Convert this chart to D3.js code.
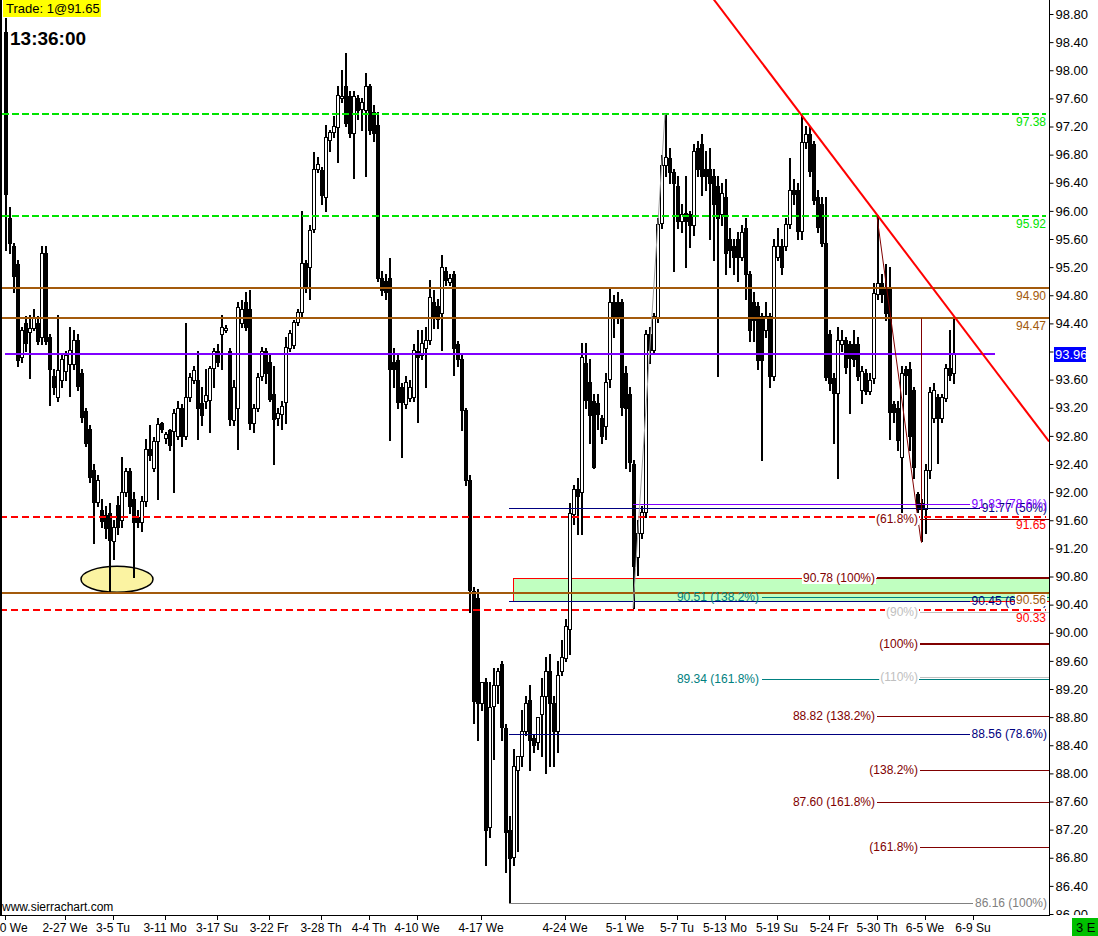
<!DOCTYPE html>
<html><head><meta charset="utf-8">
<script src="https://cdn.jsdelivr.net/npm/d3@7"></script>
<style>
html,body{margin:0;padding:0;background:#fff;}
svg{display:block;font-family:"Liberation Sans",Arial,sans-serif;}
</style></head><body>
<svg id="c" width="1098" height="936"></svg>
<script>
// ---------- DATA ----------
// [open, high, low, close] per bar
const ohlc = [
[98.55,98.75,95.45,96.25],[95.9,96.05,95.4,95.55],[95.5,95.55,94.85,95.08],[95.25,95.3,93.8,93.88],[93.92,94.35,93.85,94.3],
[94.4,94.5,94.0,94.12],[94.28,94.52,93.63,94.33],[94.33,94.6,94.3,94.47],[94.4,94.5,94.1,94.15],[94.2,95.5,94.1,95.4],
[95.4,95.5,94.1,94.15],[94.2,94.25,93.24,93.74],[93.65,93.75,93.4,93.5],[93.35,94.52,93.3,93.74],[93.6,93.95,93.5,93.9],
[93.72,94.0,93.6,93.95],[93.82,94.35,93.37,94.02],[93.82,94.3,93.75,94.16],[94.16,94.25,93.45,93.5],[93.7,93.75,93.0,93.07],
[93.15,93.2,92.65,92.7],[92.9,92.95,92.15,92.22],[92.32,92.4,91.28,91.86],[91.86,92.25,91.8,92.17],[91.75,91.9,91.5,91.6],
[91.68,91.8,91.35,91.5],[91.7,91.85,90.56,91.32],[91.3,91.6,91.05,91.5],[91.82,91.95,91.4,91.5],[91.6,92.5,91.5,92.0],
[92.0,92.35,91.95,92.3],[92.3,92.35,91.7,91.8],[91.9,92.0,90.8,91.58],[91.65,91.75,91.5,91.58],[91.58,91.95,91.45,91.88],
[91.88,92.75,91.8,92.62],[92.62,92.95,92.45,92.53],[92.35,92.78,92.3,92.73],[92.73,93.05,91.9,92.97],[92.98,93.0,92.85,92.9],
[92.77,92.85,92.7,92.82],[92.88,92.9,92.6,92.66],[92.87,93.18,92.0,93.13],[92.8,93.3,92.75,93.2],[93.2,93.25,92.65,92.8],
[92.8,94.4,92.75,93.35],[93.35,93.7,93.3,93.64],[93.6,93.8,93.55,93.74],[93.6,94.0,92.75,93.2],[93.27,93.5,92.95,93.1],
[93.3,93.75,93.2,93.38],[93.3,93.8,92.85,93.76],[93.76,94.05,93.5,94.0],[94.0,94.1,93.8,93.85],[94.25,94.52,93.75,94.35],
[94.3,94.37,94.28,94.33],[94.0,94.05,92.95,93.03],[93.03,93.6,92.95,93.5],[93.2,94.7,92.62,94.63],[94.4,94.73,94.35,94.6],
[94.7,94.85,94.3,94.35],[94.6,94.88,92.9,92.98],[92.98,93.25,92.85,93.2],[93.2,93.7,93.15,93.64],[93.64,94.06,93.6,94.0],
[94.0,94.05,93.55,93.68],[93.85,93.95,93.3,93.33],[93.4,93.8,92.4,93.05],[93.05,93.2,92.95,93.12],[93.1,93.3,92.9,93.22],
[93.28,94.2,92.98,94.06],[94.06,94.3,94.0,94.27],[94.1,94.45,94.05,94.42],[94.42,94.6,94.38,94.56],[94.56,96.0,94.5,95.26],
[95.26,95.3,94.85,94.9],[95.2,95.8,94.75,95.73],[95.75,96.84,95.7,96.6],[96.6,96.77,96.55,96.67],[96.58,96.62,96.1,96.23],
[96.2,97.22,96.0,97.05],[97.0,97.15,96.85,97.12],[97.12,97.35,97.05,97.2],[97.2,97.77,96.7,97.65],[97.6,98.0,97.55,97.63],
[97.77,98.25,97.2,97.25],[97.63,97.7,97.05,97.1],[97.1,97.7,96.47,97.63],[97.6,97.65,97.3,97.43],[97.45,97.6,97.15,97.55],
[97.43,97.96,96.5,97.77],[97.77,97.8,97.1,97.15],[97.4,97.5,97.0,97.1],[97.22,97.4,95.0,95.05],[95.05,95.15,94.8,94.88],
[95.0,95.1,94.75,94.85],[95.05,95.33,92.74,93.75],[93.85,94.05,93.5,93.75],[93.88,93.95,93.2,93.28],[93.5,93.55,92.5,93.28],
[93.25,93.65,93.2,93.57],[93.35,93.6,93.3,93.5],[93.35,94.1,93.3,94.02],[94.0,94.3,93.0,93.92],[93.95,94.3,93.9,94.12],
[94.05,94.35,93.5,94.16],[94.16,95.02,94.1,94.77],[94.7,94.88,94.33,94.5],[94.65,94.75,94.33,94.47],[94.55,95.37,94.02,95.2],
[95.15,95.2,94.95,95.02],[95.0,95.1,94.95,95.05],[95.1,95.15,93.67,94.05],[94.1,94.15,93.8,93.88],[93.9,93.95,92.88,93.17],
[93.17,93.2,92.1,92.17],[92.17,92.25,90.3,90.6],[90.6,90.65,88.72,89.04],[90.5,90.62,88.48,89.0],[89.0,89.3,88.9,89.3],
[89.3,89.35,86.7,87.2],[87.25,89.3,87.1,88.95],[88.95,89.5,88.2,89.25],[89.25,89.5,89.0,89.45],[89.55,89.6,88.48,88.65],
[88.65,88.7,86.6,87.17],[87.2,87.4,86.16,86.8],[86.8,88.35,86.7,88.1],[88.05,88.25,86.9,88.25],[88.25,88.9,88.1,88.6],
[88.6,89.1,88.55,89.0],[89.05,89.25,88.05,88.48],[88.5,88.55,88.3,88.4],[88.45,88.8,88.35,88.8],[88.85,89.35,88.25,89.1],
[89.1,89.65,88.0,89.45],[89.45,89.7,88.1,89.0],[89.0,89.1,88.1,88.6],[88.6,89.6,88.3,89.4],[89.45,89.9,89.4,89.65],
[89.65,90.2,89.6,90.1],[90.05,91.85,89.7,91.7],[91.7,92.1,91.55,92.05],[92.05,92.2,91.4,91.95],[92.0,94.12,91.4,93.92],
[93.83,94.12,93.2,93.3],[93.57,93.9,92.7,93.1],[93.3,93.4,92.35,92.36],[93.27,93.4,92.9,93.12],[93.05,93.1,92.7,92.8],
[92.95,93.7,92.75,93.57],[93.6,94.9,93.5,94.7],[94.7,94.8,94.2,94.5],[94.7,94.85,94.4,94.5],[94.7,94.75,93.1,93.2],
[93.7,93.8,92.35,93.2],[93.4,93.5,92.3,92.43],[92.4,92.45,90.35,90.95],[91.08,91.6,90.82,91.42],[91.42,91.8,91.35,91.72],
[91.72,94.3,91.65,94.25],[94.25,94.35,93.83,94.02],[94.02,94.55,93.97,94.5],[94.5,95.9,94.42,95.82],[95.82,96.8,95.75,96.65],
[96.65,97.38,96.5,96.77],[96.75,96.9,96.4,96.55],[96.55,96.6,95.15,96.4],[96.35,96.5,95.75,95.85],[95.85,96.1,95.7,95.95],
[95.97,96.5,95.2,95.85],[95.95,96.0,95.48,95.8],[95.8,96.95,95.65,96.85],[96.9,97.0,96.5,96.6],[96.95,97.1,96.22,96.5],
[96.6,96.85,96.3,96.5],[96.6,96.9,95.6,96.4],[96.5,96.6,95.3,96.1],[96.35,96.5,93.65,95.9],[95.95,96.4,95.8,96.25],
[96.2,96.45,95.1,95.4],[95.6,95.75,95.2,95.45],[95.5,95.6,95.1,95.35],[95.6,95.7,95.0,95.35],[95.35,95.8,95.3,95.7],
[95.75,95.9,94.75,95.1],[95.1,95.15,94.15,94.3],[94.7,94.85,94.15,94.45],[94.65,94.7,93.75,93.88],[94.5,94.55,92.45,93.88],
[94.3,94.7,94.2,94.5],[94.5,94.55,93.5,93.65],[93.65,95.6,93.6,95.5],[95.35,95.75,95.3,95.5],[95.5,95.6,95.1,95.2],
[95.5,95.9,95.45,95.82],[95.82,96.75,95.75,96.3],[96.3,96.45,96.1,96.25],[96.3,96.4,95.6,95.72],[95.72,97.38,95.6,96.98],
[96.98,97.2,96.9,97.1],[97.1,97.2,96.5,96.58],[96.95,97.0,96.1,96.15],[96.2,96.3,95.7,95.77],[96.1,96.2,95.5,95.55],
[95.55,96.2,93.6,93.65],[94.25,94.3,93.45,93.55],[93.62,93.7,92.7,93.4],[93.4,94.35,92.2,94.16],[94.1,94.3,94.0,94.16],
[94.16,94.2,93.7,93.78],[94.1,94.15,93.13,93.9],[94.1,94.3,93.8,93.88],[94.1,94.2,93.6,93.65],[93.45,93.8,93.27,93.72],
[93.7,93.75,93.4,93.45],[93.45,93.7,93.4,93.6],[93.62,94.98,93.55,94.83],[94.83,95.92,94.75,94.98],[94.98,95.1,94.7,94.83],
[94.9,95.25,94.45,94.55],[94.9,95.2,92.75,93.13],[93.25,93.3,93.0,93.13],[93.2,93.3,92.6,92.74],[92.5,93.8,91.72,93.7],
[93.75,93.8,93.4,93.67],[93.75,93.85,92.6,92.8],[93.45,93.5,92.2,92.35],[91.97,92.0,91.72,91.75],[91.85,91.9,91.3,91.77],
[91.77,92.4,91.42,92.32],[92.32,93.5,92.2,93.43],[93.05,93.55,93.0,93.45],[93.35,93.4,92.42,93.05],[93.05,93.4,93.0,93.35],
[93.35,93.82,93.3,93.77],[93.77,94.3,93.6,93.67],[93.7,94.47,93.55,93.98]
];
const tickBars   = [0,15,27,40,53,66,79,91,103,119,140,155,168,180,193,206,218,230,242];
const tickLabels = ["2-20 We","2-27 We","3-5 Tu","3-11 Mo","3-17 Su","3-22 Fr","3-28 Th","4-4 Th","4-10 We","4-17 We",
                    "4-24 We","5-1 We","5-7 Tu","5-13 Mo","5-19 Su","5-24 Fr","5-30 Th","6-5 We","6-9 Su"];
const priceTicks = [98.8,98.4,98.0,97.6,97.2,96.8,96.4,96.0,95.6,95.2,94.8,94.4,94.0,93.6,93.2,92.8,92.4,92.0,91.6,91.2,90.8,90.4,90.0,89.6,89.2,88.8,88.4,88.0,87.6,87.2,86.8,86.4,86.0];
const greenLevels = [97.38, 95.92];
const brownLevels = [94.90, 94.47, 90.56];
const redLevels   = [91.65, 90.33];
const pivotLevel  = 93.96;
const zonePrices  = [90.78, 90.45];
const zoneStartBar = 127;
const ellipseAt   = [28, 90.76];
const trendAnchors = [[198.75, 97.39],[261, 92.72]];
const fibLowBar = 126;
const fibFromLow = [[91.77,"50%"],[90.45,"61.8%"],[88.56,"78.6%"],[86.16,"100%"]];
const fibPurpleBar = 157;
const fibPurple = [[91.83,"78.6%"]];
const fibTealBar = 189;
const fibTeal = [[90.51,"138.2%"],[89.34,"161.8%"]];
const fibDBar = 218;
const fibD = [[90.78,"100%"],[88.82,"138.2%"],[87.60,"161.8%"]];
const fibEBar = 229;
const fibE = [[91.62,"61.8%"],[90.29,"90%"],[89.84,"100%"],[89.37,"110%"],[88.05,"138.2%"],[86.95,"161.8%"]];
const swingGray = [[157, 90.35],[165, 97.38]];
const swingRed  = [[218, 95.92],[229, 91.30]];
const swingVert = [229, 94.47, 91.28];

// ---------- DRAW ----------
const svg = d3.select("#c");
const PL = 2, PR = 1049, PB = 915;
const x = d3.scaleLinear().domain([0, 261]).range([5, 1049]);
const y = d3.scaleLinear().domain([86, 98.8]).range([914, 14]);
const C = {green:"#00e400", brown:"#a35a0c", purple:"#8000ff", red:"#ff0000", dred:"#800000",
           navy:"#000080", teal:"#008080", lgray:"#c0c0c0", gray:"#808080"};
const fmt = v => v.toFixed(2);

const defs = svg.append("defs");
defs.append("clipPath").attr("id","plot").append("rect").attr("x",PL).attr("y",0).attr("width",PR-PL).attr("height",PB);
defs.append("clipPath").attr("id","axc").append("rect").attr("x",PR).attr("y",0).attr("width",60).attr("height",PB);

const plot = svg.append("g").attr("clip-path","url(#plot)");

// zone
plot.append("rect").attr("x", Math.round(x(zoneStartBar))+0.5).attr("y", Math.round(y(zonePrices[0]))+0.5)
  .attr("width", PR - Math.round(x(zoneStartBar))).attr("height", Math.round(y(zonePrices[1]) - y(zonePrices[0])))
  .attr("fill","#c0ffc0").attr("stroke",C.red);

// ellipse
plot.append("ellipse").attr("cx", x(ellipseAt[0])).attr("cy", y(ellipseAt[1])).attr("rx",36).attr("ry",13)
  .attr("fill","#fbf3a2").attr("stroke","#000").attr("stroke-width",1.5);

// candles
const cg = plot.append("g").attr("shape-rendering","crispEdges");
cg.selectAll("line").data(ohlc).join("line")
  .attr("x1",(d,i)=>Math.round(x(i))+1).attr("x2",(d,i)=>Math.round(x(i))+1)
  .attr("y1",d=>Math.round(y(d[1]))).attr("y2",d=>Math.round(y(d[2]))+1)
  .attr("stroke","#000").attr("stroke-width",2);
cg.selectAll("rect").data(ohlc).join("rect")
  .attr("x",(d,i)=>Math.round(x(i))-0.5).attr("width",3)
  .attr("y",d=>Math.round(y(Math.max(d[0],d[3])))+0.5)
  .attr("height",d=>Math.max(1,Math.round(Math.abs(y(d[0])-y(d[3])))))
  .attr("fill",d=>d[3]>=d[0]?"#fff":"#000").attr("stroke","#000");

// horizontal levels
const hl = plot.append("g").attr("shape-rendering","crispEdges");
function hline(p, x1, x2, color, w, dash){
  const yy = w % 2 === 1 ? Math.round(y(p))+0.5 : Math.round(y(p));
  const l = hl.append("line").attr("x1",x1).attr("x2",x2).attr("y1",yy).attr("y2",yy)
    .attr("stroke",color).attr("stroke-width",w);
  if (dash) l.attr("stroke-dasharray",dash);
  return l;
}
greenLevels.forEach(p => hline(p, PL, 1046, C.green, 2, "7,3"));
brownLevels.forEach(p => hline(p, PL, PR, C.brown, 2));
redLevels.forEach(p => hline(p, 0, 1046, C.red, 2, "7,4"));
hline(pivotLevel, x(0), 995, C.purple, 2);

// trend line
const tr = d3.scaleLinear().domain([trendAnchors[0][0], trendAnchors[1][0]]).range([trendAnchors[0][1], trendAnchors[1][1]]);
plot.append("line").attr("x1",x(177)).attr("y1",y(tr(177))).attr("x2",x(261)).attr("y2",y(tr(261)))
  .attr("stroke",C.red).attr("stroke-width",2);

// swing lines
plot.append("line").attr("x1",x(swingGray[0][0])).attr("y1",y(swingGray[0][1])).attr("x2",x(swingGray[1][0])).attr("y2",y(swingGray[1][1]))
  .attr("stroke","#a0a0a0").attr("stroke-width",1);
plot.append("line").attr("x1",x(swingRed[0][0])).attr("y1",y(swingRed[0][1])).attr("x2",x(swingRed[1][0])).attr("y2",y(swingRed[1][1]))
  .attr("stroke",C.dred).attr("stroke-width",1);
plot.append("line").attr("x1",Math.round(x(swingVert[0]))+0.5).attr("x2",Math.round(x(swingVert[0]))+0.5)
  .attr("y1",y(swingVert[1])).attr("y2",y(swingVert[2])).attr("stroke",C.dred).attr("stroke-width",1);

const lab = svg.append("g").attr("font-size","12px").style("white-space","pre");
function txt(t, xx, yy, color, anchor, bg){
  const g = lab.append("g");
  const el = g.append("text").attr("x",xx).attr("y",yy).attr("fill",color).attr("text-anchor",anchor||"start").text(t);
  const w = el.node().getComputedTextLength();
  if (bg){
    const x0 = anchor==="end" ? xx-w : xx;
    g.insert("rect","text").attr("x",x0-1).attr("y",yy-10).attr("width",w+2).attr("height",12).attr("fill","#fff");
  }
  return w;
}

// fib from the 4-17 low (label right, line from bar)
fibFromLow.forEach(([p,pct]) => {
  const col = pct==="100%" ? C.gray : C.navy;
  const w = txt(`${fmt(p)}  (${pct})`, 1047, Math.round(y(p))+4, col, "end");
  hline(p, x(fibLowBar), 1047 - w - 2, col, 1);
});
fibPurple.forEach(([p,pct]) => {
  const w = txt(`${fmt(p)}  (${pct})`, 1047, Math.round(y(p))+4, C.purple, "end");
  hline(p, x(fibPurpleBar), 1047 - w - 2, C.purple, 1);
});
// teal
fibTeal.forEach(([p,pct]) => {
  hline(p, x(fibTealBar)+1, PR, C.teal, 1);
  txt(`${fmt(p)}  (${pct})`, x(fibTealBar)-2, Math.round(y(p))+4, C.teal, "end");
});
// dark red group with values
fibD.forEach(([p,pct]) => {
  hline(p, x(fibDBar), PR, C.dred, pct==="100%" ? 2 : 1);
  txt(`${fmt(p)}  (${pct})`, x(fibDBar)-2, Math.round(y(p))+4, C.dred, "end", true);
});
// percent-only group
fibE.forEach(([p,pct]) => {
  const col = (pct==="90%"||pct==="110%") ? C.lgray : C.dred;
  hline(p, x(fibEBar)-1, PR, col, pct==="100%" ? 2 : 1);
  txt(`(${pct})`, x(fibEBar)-3, Math.round(y(p))+4, col, "end", true);
});

// level labels
greenLevels.forEach(p => txt(fmt(p), 1046, Math.round(y(p))+12, C.green, "end"));
[94.90, 94.47].forEach(p => txt(fmt(p), 1046, Math.round(y(p))+12, C.brown, "end"));
redLevels.forEach(p => txt(fmt(p), 1046, Math.round(y(p))+12, C.red, "end"));
txt(fmt(90.56), 1046, Math.round(y(90.56))+11, C.brown, "end", true);

// axes lines
svg.append("line").attr("x1",PR+0.5).attr("x2",PR+0.5).attr("y1",0).attr("y2",PB+1).attr("stroke","#000");
svg.append("line").attr("x1",0).attr("x2",PR+1).attr("y1",PB+0.5).attr("y2",PB+0.5).attr("stroke","#000");
svg.append("line").attr("x1",1).attr("x2",1).attr("y1",0).attr("y2",PB).attr("stroke","#000").attr("stroke-width",2);

// right axis (clip wrapper without transform so the clip rect is in page coordinates)
const yAxis = d3.axisRight(y).tickValues(priceTicks).tickSize(4).tickPadding(2)
  .tickFormat(d => Math.abs(d - pivotLevel) < 0.1 ? "" : fmt(d));
const yaWrap = svg.append("g").attr("clip-path","url(#axc)");
const ya = yaWrap.append("g").attr("transform",`translate(${PR+0.5},0)`).call(yAxis);
ya.select(".domain").remove();
ya.selectAll("text").attr("font-size","13px").attr("font-family","'Liberation Sans',Arial,sans-serif").attr("fill","#000");
ya.selectAll("line").attr("stroke","#000");
// pivot label
const pv = Math.round(y(pivotLevel));
svg.append("rect").attr("x",1054).attr("y",pv-7).attr("width",32).attr("height",15).attr("fill","#0000ff");
svg.append("text").attr("x",1055).attr("y",pv+5).attr("fill","#fff").attr("font-size","13px").text(fmt(pivotLevel));

// bottom axis
const xa = svg.append("g");
xa.selectAll("line").data(tickBars).join("line")
  .attr("x1",d=>Math.round(x(d))+0.5).attr("x2",d=>Math.round(x(d))+0.5).attr("y1",PB).attr("y2",PB+5).attr("stroke","#000");
xa.selectAll("text").data(tickBars).join("text")
  .attr("x",d=>x(d)).attr("y",932).attr("text-anchor","middle").attr("font-size","12px").attr("fill","#000")
  .text((d,i)=>tickLabels[i]);

// header / footer texts
svg.append("rect").attr("x",3).attr("y",0).attr("width",98).attr("height",17).attr("fill","#ffff00");
svg.append("text").attr("x",6).attr("y",13).attr("font-size","13px").attr("fill","#000").text("Trade: 1@91.65");
svg.append("text").attr("x",10).attr("y",45).attr("font-size","19px").attr("font-weight","bold").attr("fill","#000").text("13:36:00");
svg.append("text").attr("x",2).attr("y",911).attr("font-size","12px").attr("fill","#000").text("www.sierrachart.com");
svg.append("rect").attr("x",1072).attr("y",918).attr("width",26).attr("height",18).attr("fill","#00c000");
svg.append("text").attr("x",1076).attr("y",932).attr("font-size","13px").attr("fill","#000").text("3 E");
</script>
</body></html>
